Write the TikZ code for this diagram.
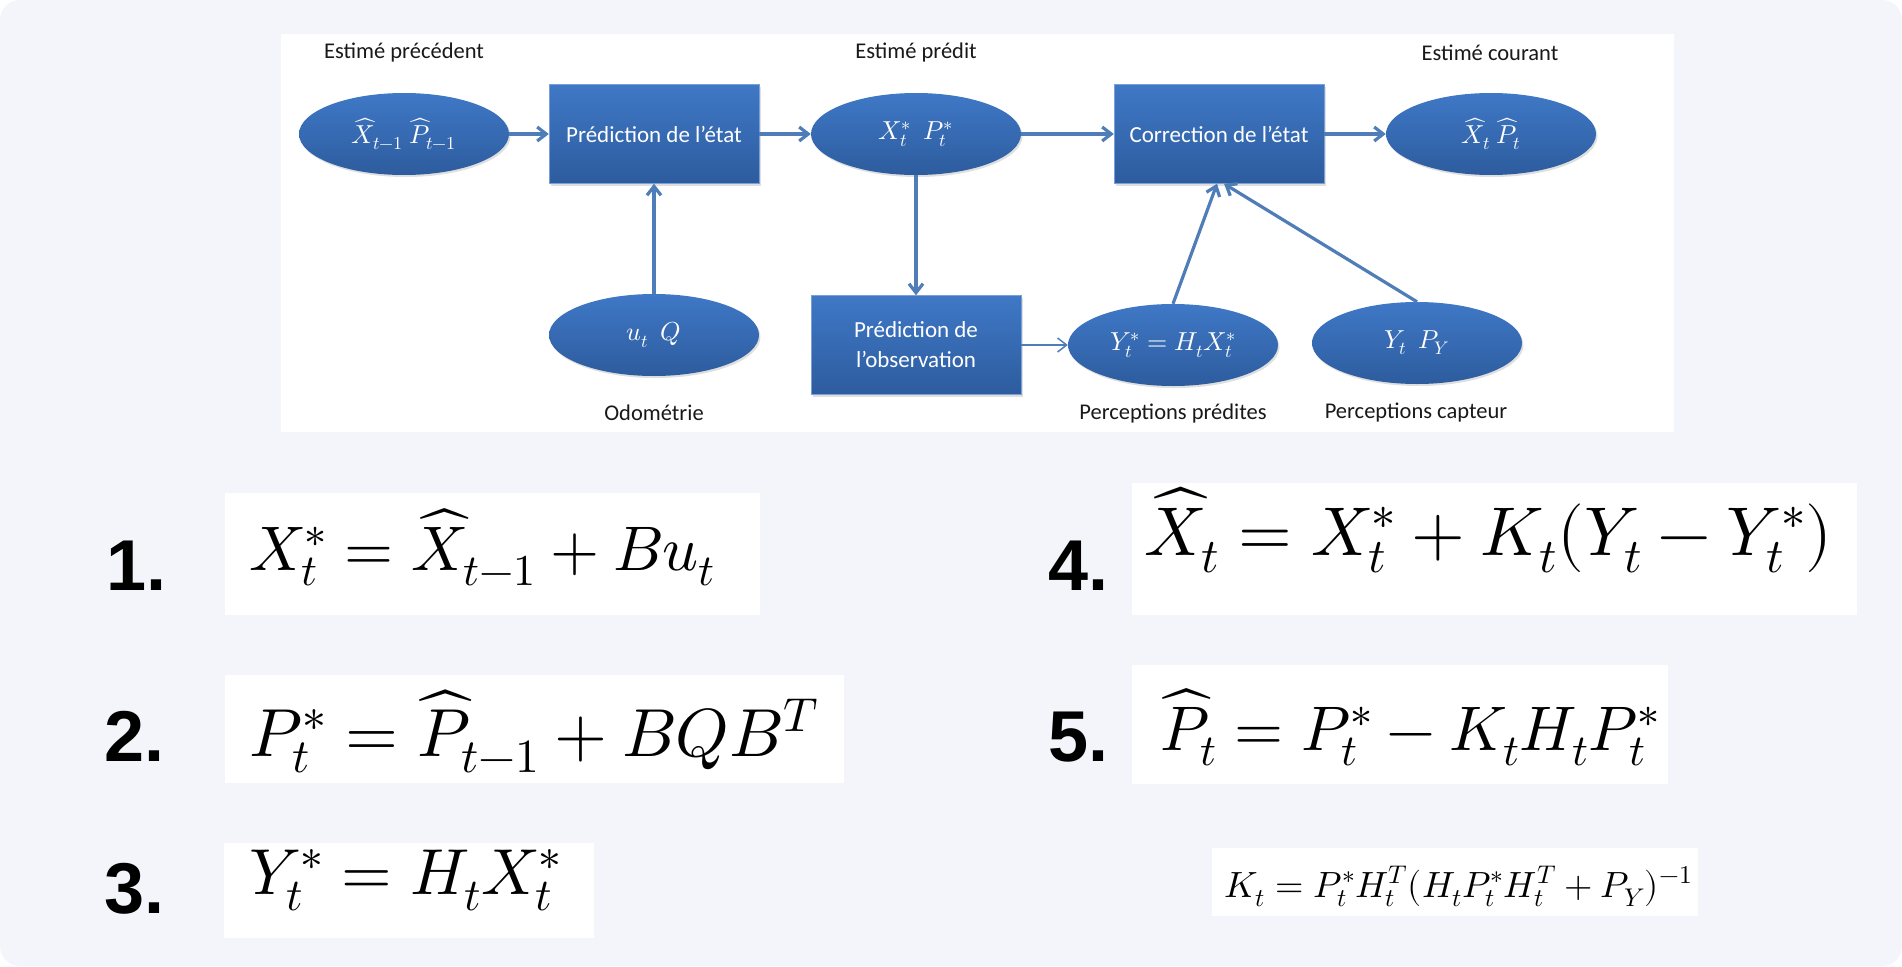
\documentclass[tikz,border=0pt]{standalone}
\usepackage{amsmath}
\usepackage{graphicx}
\usepackage{fontspec}
\usepackage{unicode-math}
\setmainfont{Carlito}
\setmathfont{Latin Modern Math}
\newfontfamily\numfont{Liberation Sans}
\usetikzlibrary{arrows.meta, calc, positioning, shapes.geometric, shadows}
\definecolor{fondk}{HTML}{F4F5FA}
\definecolor{bleuh}{HTML}{3F78C6}
\definecolor{bleub}{HTML}{2D5C9E}
\definecolor{flechek}{HTML}{4F7DB7}

\newcommand{\taille}[1]{\fontsize{#1}{#1}\selectfont}

\begin{document}
\begin{tikzpicture}[x=1pt, y=-1pt,
                    etat/.style={ellipse, minimum width=210pt, minimum height=82pt, inner sep=0pt,
                                 top color=bleuh, bottom color=bleub, draw=none, text=white,
                                 font=\taille{26},
                                 drop shadow={opacity=0.25, shadow xshift=1.5pt, shadow yshift=-2pt}},
                    calcul/.style={rectangle, minimum width=210pt, minimum height=99pt, inner sep=0pt,
                                 top color=bleuh, bottom color=bleub, draw=bleuh!70!white, text=white,
                                 align=center, font=\fontsize{23}{30}\selectfont,
                                 drop shadow={opacity=0.25, shadow xshift=1.5pt, shadow yshift=-2pt}},
                    titre/.style={font=\taille{22.5}, text=black!90},
                    fleche/.style={-{Straight Barb[length=9pt, width=14pt]}, draw=flechek, line width=3.2pt},
                    numero/.style={font=\numfont\bfseries\taille{72}, anchor=base west, inner sep=0pt},
                    eqn/.style={anchor=base west, inner sep=0pt}
                ]
                % fond et panneau
                \fill[white] (0,0) rectangle (1902,966);
                \fill[fondk, rounded corners=20pt] (0,0) rectangle (1902,966);
                \fill[white] (281,34) rectangle (1674,432);

                % ligne du haut
                \node[etat] (prec) at (404,134) {$\widehat{X}_{t-1}\ \widehat{P}_{t-1}$};
                \node[calcul] (predetat) at (654,134) {Prédiction de l’état};
                \node[etat] (predit) at (916,134) {$X_t^*\ \ P_t^*$};
                \node[calcul] (corretat) at (1219,134) {Correction de l’état};
                \node[etat] (courant) at (1491,134) {$\widehat{X}_t\ \widehat{P}_t$};

                % ligne du bas
                \node[etat] (odo) at (654,335) {$u_t\ \ Q$};
                \node[calcul] (predobs) at (916,345) {Prédiction de\\l’observation};
                \node[etat] (percp) at (1173,345) {$Y_t^* = H_t X_t^*$};
                \node[etat] (percc) at (1417,343) {$Y_t\ \ P_Y$};

                % titres
                \node[titre] (tprec) at (404,53) {Estimé précédent};
                \node[titre] (tpredit) at (916,53) {Estimé prédit};
                \node[titre] (tcourant) at (1490,53) {Estimé courant};
                \node[titre] (todo) at (654,413) {Odométrie};
                \node[titre] (tpercp) at (1173,413) {Perceptions prédites};
                \node[titre] (tpercc) at (1416,413) {Perceptions capteur};

                % fleches
                \draw[fleche] (prec) -- (predetat);
                \draw[fleche] (predetat) -- (predit);
                \draw[fleche] (predit) -- (corretat);
                \draw[fleche] (corretat) -- (courant);
                \draw[fleche] (odo) -- (predetat);
                \draw[fleche] (predit) -- (predobs);
                \draw[fleche, line width=1.5pt] (predobs) -- (percp);
                \draw[fleche] (percp.north) -- ([xshift=-2pt]corretat.south);
                \draw[fleche] (percc.north) -- ([xshift=5pt]corretat.south);

                % equations
                \fill[white] (225,493) rectangle (760,615);
                \fill[white] (225,675) rectangle (844,783);
                \fill[white] (224,843) rectangle (594,938);
                \fill[white] (1132,483) rectangle (1857,615);
                \fill[white] (1132,665) rectangle (1668,784);
                \fill[white] (1212,848) rectangle (1698,916);

                \node[numero] (n1) at (106,590) {1.};
                \node[numero] (n2) at (104,761) {2.};
                \node[numero] (n3) at (104,913) {3.};
                \node[numero] (n4) at (1048,590) {4.};
                \node[numero] (n5) at (1048,761) {5.};

                \node[eqn, font=\taille{63}] (e1) at (249,570) {$X_t^* = \widehat{X}_{t-1} + Bu_t$};
                \node[eqn, font=\taille{68}] (e2) at (249,756) {$P_t^* = \widehat{P}_{t-1} + BQB^T$};
                \node[eqn, font=\taille{65}] (e3) at (249,894) {$Y_t^* = H_t X_t^*$};
                \node[eqn, font=\taille{69}] (e4) at (1144,555) {$\widehat{X}_t = X_t^* + K_t(Y_t - Y_t^*)$};
                \node[eqn, font=\taille{63}] (e5) at (1160,750) {$\widehat{P}_t = P_t^* - K_t H_t P_t^*$};
                \node[eqn, font=\taille{36.5}] (ek) at (1224,897) {$K_t = P_t^* H_t^T (H_t P_t^* H_t^T + P_Y)^{-1}$};
            \end{tikzpicture}
\end{document}
